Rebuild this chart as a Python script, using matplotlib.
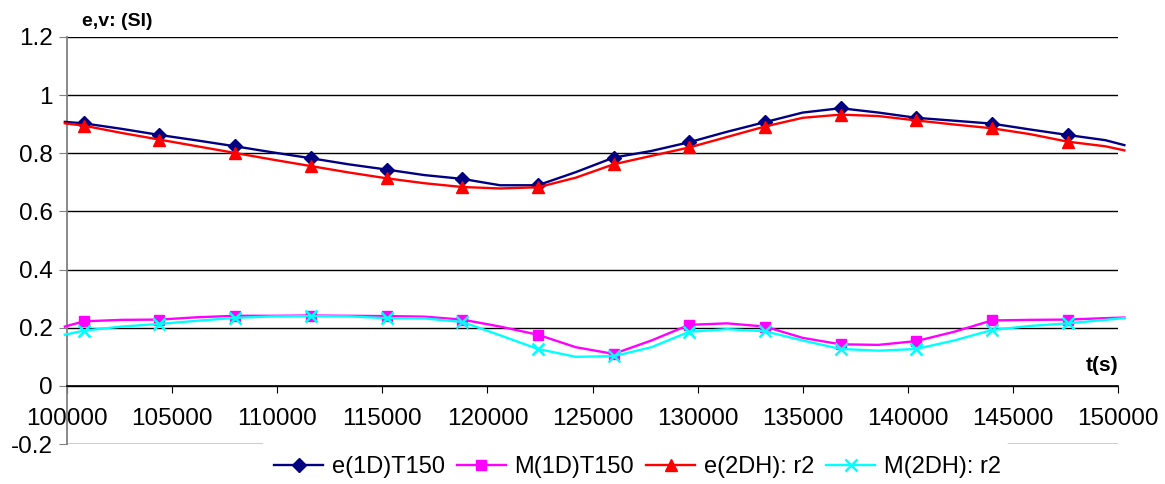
import matplotlib
matplotlib.use("Agg")
import matplotlib.pyplot as plt

plt.rcParams['font.family'] = ['Liberation Sans', 'DejaVu Sans']

# time (s) - lines sampled every 1800 s, markers every 3600 s
t = [99900, 100800, 102600, 104400, 106200, 108000, 109800, 111600, 113400,
     115200, 117000, 118800, 120600, 122400, 124200, 126000, 127800, 129600,
     131400, 133200, 135000, 136800, 138600, 140400, 142200, 144000, 145800,
     147600, 149400, 150300]

e_1d = [0.908, 0.903, 0.884, 0.863, 0.844, 0.824, 0.803, 0.783, 0.762,
        0.744, 0.725, 0.712, 0.690, 0.690, 0.735, 0.785, 0.808, 0.838,
        0.874, 0.907, 0.940, 0.955, 0.940, 0.922, 0.912, 0.902, 0.882,
        0.863, 0.845, 0.828]

m_1d = [0.204, 0.222, 0.227, 0.228, 0.236, 0.241, 0.241, 0.242, 0.241,
        0.240, 0.238, 0.228, 0.204, 0.176, 0.133, 0.110, 0.156, 0.210,
        0.215, 0.204, 0.165, 0.143, 0.141, 0.154, 0.186, 0.225, 0.227,
        0.228, 0.233, 0.235]

e_2dh = [0.903, 0.895, 0.870, 0.847, 0.824, 0.801, 0.778, 0.756, 0.734,
         0.714, 0.697, 0.684, 0.679, 0.683, 0.716, 0.762, 0.791, 0.820,
         0.856, 0.892, 0.922, 0.933, 0.928, 0.913, 0.899, 0.886, 0.866,
         0.840, 0.824, 0.810]

m_2dh = [0.176, 0.190, 0.204, 0.213, 0.224, 0.234, 0.239, 0.240, 0.239,
         0.233, 0.232, 0.220, 0.174, 0.127, 0.100, 0.102, 0.133, 0.186,
         0.195, 0.188, 0.156, 0.127, 0.121, 0.127, 0.156, 0.192, 0.206,
         0.215, 0.227, 0.233]

series_names = ['e(1D)T150', 'M(1D)T150', 'e(2DH): r2', 'M(2DH): r2']
x_ticks = [100000, 105000, 110000, 115000, 120000, 125000, 130000, 135000, 140000, 145000, 150000]
y_ticks = [-0.2, 0, 0.2, 0.4, 0.6, 0.8, 1.0, 1.2]
y_labels = ['-0.2', '0', '0.2', '0.4', '0.6', '0.8', '1', '1.2']

mark_idx = list(range(1, len(t) - 1, 2))

fig = plt.figure(figsize=(11.65, 4.84), dpi=100)
ax = fig.add_axes([0.0575, 0.0826, 0.9022, 0.8410])

ax.plot(t, e_1d, color='#000080', lw=1.7, marker='D', ms=7, markevery=mark_idx,
        label=series_names[0], clip_on=False, zorder=3)
ax.plot(t, m_1d, color='#FF00FF', lw=1.7, marker='s', ms=7.5, markevery=mark_idx,
        label=series_names[1], clip_on=False, zorder=3)
ax.plot(t, e_2dh, color='#FF0000', lw=1.7, marker='^', ms=9, markevery=mark_idx,
        label=series_names[2], clip_on=False, zorder=4)
ax.plot(t, m_2dh, color='#00FFFF', lw=1.7, marker='x', ms=9, mew=1.8, markevery=mark_idx,
        label=series_names[3], clip_on=False, zorder=4)

ax.set_xlim(100000, 150000)
ax.set_ylim(-0.2, 1.2)
ax.set_xticks(x_ticks)
ax.set_xticklabels([str(v) for v in x_ticks])
ax.set_yticks(y_ticks)
ax.set_yticklabels(y_labels)

# horizontal grid, the -0.2 line is hidden behind the tick labels in the middle
ax.grid(axis='y', color='black', lw=1.0, zorder=1)
ax.get_ygridlines()[0].set_visible(False)
ax.axhline(-0.2, xmin=0, xmax=0.186, color='black', lw=1.0, zorder=1)
ax.axhline(-0.2, xmin=0.895, xmax=1, color='black', lw=1.0, zorder=1)

for s in ['top', 'right']:
    ax.spines[s].set_visible(False)
ax.spines['left'].set_color('#808080')
ax.spines['left'].set_linewidth(1.3)
ax.spines['bottom'].set_position(('data', 0))
ax.spines['bottom'].set_color('black')
ax.spines['bottom'].set_linewidth(1.2)

ax.tick_params(axis='y', direction='out', length=6, color='#808080', labelsize=17.5, pad=4)
ax.tick_params(axis='x', direction='out', length=5, color='black', labelsize=17.5, pad=11)

fig.text(82 / 1165, 1 - 22 / 484, 'e,v: (SI)', fontsize=14, fontweight='bold',
         ha='left', va='center')
ax.text(150000, 0.069, 't(s)', fontsize=15, fontweight='bold', ha='right', va='center')

fig.legend(loc='center', bbox_to_anchor=(0.547, 0.035), ncol=4, frameon=False,
           fontsize=17, handlelength=2.1, handletextpad=0.35, columnspacing=0.5,
           borderpad=0, borderaxespad=0)

fig.savefig('out.png', dpi=100)
